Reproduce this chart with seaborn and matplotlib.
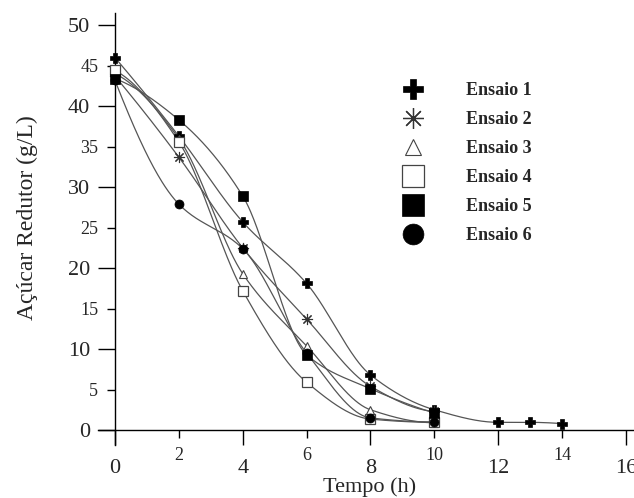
import numpy as np
import pandas as pd
import matplotlib
matplotlib.use("Agg")
import matplotlib.pyplot as plt
from matplotlib.lines import Line2D
import seaborn as sns

# ---- data ----
time_1 = [0, 2, 4, 6, 8, 10, 12, 13, 14]
time_2_6 = [0, 2, 4, 6, 8, 10]
ensaio_1 = [46.0, 36.3, 25.7, 18.1, 6.8, 2.5, 0.95, 0.95, 0.8]
ensaio_2 = [43.7, 33.7, 22.5, 13.7, 5.4, 2.3]
ensaio_3 = [44.0, 36.0, 19.3, 10.4, 2.5, 0.9]
ensaio_4 = [44.4, 35.6, 17.2, 5.9, 1.35, 0.95]
ensaio_5 = [43.4, 38.3, 28.9, 9.3, 5.1, 2.1]
ensaio_6 = [43.2, 27.9, 22.4, 9.5, 1.5, 1.0]
labels = ["Ensaio 1", "Ensaio 2", "Ensaio 3", "Ensaio 4", "Ensaio 5", "Ensaio 6"]
x_major = [0, 4, 8, 12, 16]
x_minor = [2, 6, 10, 14]
y_major = [0, 10, 20, 30, 40, 50]
y_minor = [5, 15, 25, 35, 45]

series = [
    (labels[0], time_1, ensaio_1),
    (labels[1], time_2_6, ensaio_2),
    (labels[2], time_2_6, ensaio_3),
    (labels[3], time_2_6, ensaio_4),
    (labels[4], time_2_6, ensaio_5),
    (labels[5], time_2_6, ensaio_6),
]

styles = {
    "Ensaio 1": dict(marker="P", ms=7, mfc="black", mec="black", mew=0.5),
    "Ensaio 2": dict(marker=(8, 2, 0), ms=8, mfc="none", mec="#333333", mew=0.8),
    "Ensaio 3": dict(marker="^", ms=6, mfc="white", mec="#444444", mew=0.8),
    "Ensaio 4": dict(marker="s", ms=6.5, mfc="white", mec="#444444", mew=0.9),
    "Ensaio 5": dict(marker="s", ms=7, mfc="black", mec="black", mew=0.5),
    "Ensaio 6": dict(marker="o", ms=6.5, mfc="black", mec="black", mew=0.5),
}
legend_sizes = {"Ensaio 1": 15, "Ensaio 2": 15, "Ensaio 3": 12,
                "Ensaio 4": 16, "Ensaio 5": 16, "Ensaio 6": 15}


def smooth_curve(x, y, n=300):
    """Smooth rendering curve through the data points (monotone cubic Hermite)."""
    x = np.asarray(x, float)
    y = np.asarray(y, float)
    h = np.diff(x)
    delta = np.diff(y) / h
    k = len(x)
    d = np.zeros(k)
    for i in range(1, k - 1):
        if delta[i - 1] * delta[i] > 0:
            w1 = 2 * h[i] + h[i - 1]
            w2 = h[i] + 2 * h[i - 1]
            d[i] = (w1 + w2) / (w1 / delta[i - 1] + w2 / delta[i])
        else:
            d[i] = 0.0

    def end_slope(h0, h1, m0, m1):
        s = ((2 * h0 + h1) * m0 - h0 * m1) / (h0 + h1)
        if np.sign(s) != np.sign(m0):
            s = 0.0
        elif np.sign(m0) != np.sign(m1) and abs(s) > abs(3 * m0):
            s = 3 * m0
        return s

    d[0] = end_slope(h[0], h[1], delta[0], delta[1])
    d[-1] = end_slope(h[-1], h[-2], delta[-1], delta[-2])
    xs = np.linspace(x[0], x[-1], n)
    idx = np.clip(np.searchsorted(x, xs, side="right") - 1, 0, k - 2)
    t = (xs - x[idx]) / h[idx]
    h00 = 2 * t ** 3 - 3 * t ** 2 + 1
    h10 = t ** 3 - 2 * t ** 2 + t
    h01 = -2 * t ** 3 + 3 * t ** 2
    h11 = t ** 3 - t ** 2
    ys = (h00 * y[idx] + h10 * h[idx] * d[idx] + h01 * y[idx + 1]
          + h11 * h[idx] * d[idx + 1])
    return xs, ys


sns.set_style("ticks")
plt.rcParams["font.family"] = ["Liberation Serif", "DejaVu Serif"]

W, H = 634, 498
fig = plt.figure(figsize=(W / 100, H / 100), dpi=100)
ax = fig.add_axes([98 / W, 1 - 445 / H, 536 / W, (445 - 13) / H])

for name, t, v in series:
    xs, ys = smooth_curve(t, v)
    curve = pd.DataFrame({"Tempo": xs, "Acucar": ys})
    sns.lineplot(data=curve, x="Tempo", y="Acucar", ax=ax, color="#555555",
                 lw=0.9, sort=False, estimator=None, legend=False)

for name, t, v in series:
    ax.plot(t, v, linestyle="none", zorder=3, **styles[name])

ax.set_xlim(-0.53, 16.25)
ax.set_ylim(-1.85, 51.5)

for s in ["top", "right"]:
    ax.spines[s].set_visible(False)
ax.spines["left"].set_position(("data", 0))
ax.spines["bottom"].set_position(("data", 0))
for s in ["left", "bottom"]:
    ax.spines[s].set_linewidth(1.0)
    ax.spines[s].set_color("black")

ax.set_xticks(x_major)
ax.set_xticklabels([str(v) for v in x_major])
ax.set_xticks(x_minor, minor=True)
ax.set_xticklabels([str(v) for v in x_minor], minor=True)
ax.set_yticks(y_major)
ax.set_yticklabels([str(v) for v in y_major])
ax.set_yticks(y_minor, minor=True)
ax.set_yticklabels([str(v) for v in y_minor], minor=True)

ax.tick_params(axis="x", which="major", direction="out", length=11, width=1,
               labelsize=16, pad=10, color="black")
ax.tick_params(axis="x", which="minor", direction="out", length=5.5, width=1,
               labelsize=13, pad=7, color="black")
ax.tick_params(axis="y", which="major", direction="out", length=12, width=1,
               labelsize=16, pad=6, color="black")
ax.tick_params(axis="y", which="minor", direction="out", length=6, width=1,
               labelsize=13, pad=6, color="black")

ax.set_xlabel("Tempo (h)", fontsize=16)
ax.xaxis.label.set_verticalalignment("center")
ax.xaxis.set_label_coords((370 - 98) / 536, (445 - 487) / 432)
ax.set_ylabel("Açúcar Redutor (g/L)", fontsize=17)
ax.yaxis.label.set_verticalalignment("center")
ax.yaxis.set_label_coords((27 - 98) / 536, (445 - 218) / 432)

handles = []
for name in labels:
    st = dict(styles[name])
    st["ms"] = legend_sizes[name]
    if name == "Ensaio 2":
        st["mew"] = 0.9
    handles.append(Line2D([], [], linestyle="none", **st))
leg = ax.legend(handles, labels, loc="upper left",
                bbox_to_anchor=(395 / W, 1 - 82 / H), bbox_transform=fig.transFigure,
                frameon=False, borderpad=0, borderaxespad=0, handlelength=2.0,
                handletextpad=1.94, labelspacing=0.67,
                prop={"family": ["Liberation Serif"], "weight": "bold", "size": 13})

fig.savefig("out.png", dpi=100)
